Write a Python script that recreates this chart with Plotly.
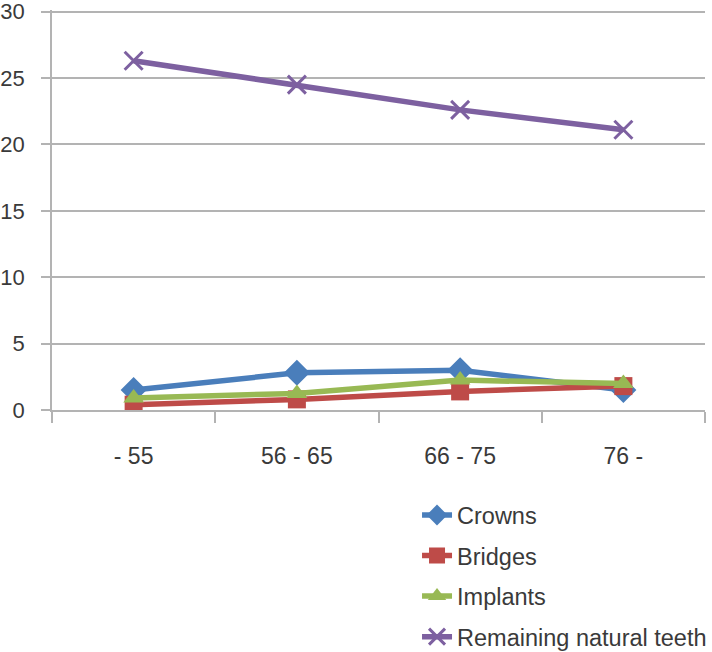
import plotly.graph_objects as go

categories = ["- 55", "56 - 65", "66 - 75", "76 -"]
crowns = [1.5, 2.8, 3.0, 1.5]
bridges = [0.4, 0.8, 1.4, 1.8]
implants = [0.9, 1.25, 2.25, 2.0]
natural = [26.3, 24.5, 22.6, 21.1]
y_ticks = [0, 5, 10, 15, 20, 25, 30]

FONT = "Liberation Sans"
GRID = "#b3b3b3"
TXT = "#3a3a3a"

fig = go.Figure()
series = [
    ("Crowns", crowns, "#4A7EBB", "diamond", 20),
    ("Bridges", bridges, "#BE4B48", "square", 18),
    ("Implants", implants, "#98B954", "triangle-up", 18),
]
for i, (name, vals, col, sym, sz) in enumerate(series):
    fig.add_trace(go.Scatter(
        x=categories, y=vals, name=name, mode="lines+markers",
        line=dict(color=col, width=5.5),
        marker=dict(symbol=sym, size=sz, color=col),
        legendgroup=f"g{i}",
    ))
fig.add_trace(go.Scatter(
    x=categories, y=natural, name="Remaining natural teeth", mode="lines+markers",
    line=dict(color="#7D60A0", width=5.5),
    marker=dict(symbol="x-thin", size=18, color="#7D60A0",
                line=dict(color="#7D60A0", width=3)),
    legendgroup="g3",
))

fig.update_layout(
    width=712, height=652,
    margin=dict(l=52, r=7, t=10, b=242, autoexpand=False),
    paper_bgcolor="white", plot_bgcolor="white",
    font=dict(family=FONT, size=22, color=TXT),
    showlegend=True,
    legend=dict(
        x=0.559, y=-0.208, xanchor="left", yanchor="top",
        orientation="v", traceorder="grouped", tracegroupgap=7,
        font=dict(family=FONT, size=23.5, color=TXT),
        bgcolor="rgba(0,0,0,0)",
    ),
    xaxis=dict(
        type="category", showgrid=False, showline=True, linecolor=GRID, linewidth=1.5,
        ticks="outside", tickson="boundaries", ticklen=11, tickcolor=GRID, tickwidth=1.5,
        ticklabelstandoff=25, range=[-0.5, 3.5], automargin=False,
        tickfont=dict(family=FONT, size=23, color=TXT),
    ),
    yaxis=dict(
        range=[0, 30.12], tickvals=y_ticks, showgrid=True, gridcolor=GRID, gridwidth=1.5,
        showline=True, linecolor=GRID, linewidth=1.5,
        ticks="outside", ticklen=9, tickcolor=GRID, tickwidth=1.5,
        zeroline=False, ticklabelstandoff=12, automargin=False,
        ticklabeloverflow="allow",
        tickfont=dict(family=FONT, size=22, color=TXT),
    ),
)

fig.write_html("out.html", config={"displayModeBar": False},
               post_script="document.body.style.margin='0';")
